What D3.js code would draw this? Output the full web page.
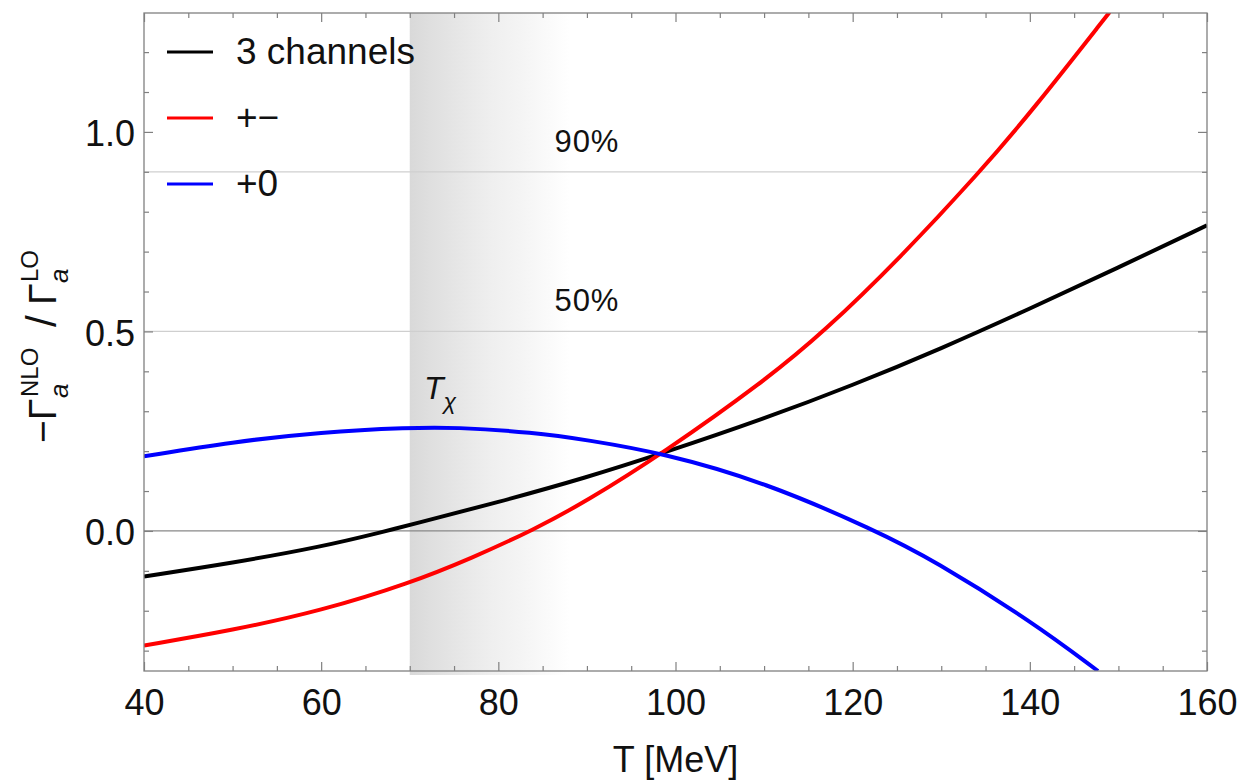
<!DOCTYPE html>
<html>
<head>
<meta charset="utf-8">
<script src="https://cdn.jsdelivr.net/npm/d3@7"></script>
<style>
  body { margin: 0; background: #fff; }
  text { font-family: "Liberation Sans", Arial, sans-serif; fill: #111; }
</style>
</head>
<body>
<div id="chart"></div>
<script>
// datos
const tBlack = [40, 50, 60, 67.4, 70, 80, 90, 98.6, 110, 120, 130, 140, 150, 160];
const vBlack = [-0.114, -0.080, -0.040, 0, 0.015, 0.072, 0.134, 0.195, 0.281, 0.365, 0.457, 0.557, 0.66, 0.766];

const tRed = [40, 50, 60, 70, 77, 84, 90, 98.6, 110, 116.8, 125.3, 134.3, 140.3, 149];
const vRed = [-0.287, -0.249, -0.200, -0.131, -0.068, 0.003, 0.075, 0.195, 0.375, 0.5, 0.683, 0.898, 1.054, 1.30];

const tBlue = [40, 50, 60, 70, 75, 84, 90, 98.6, 110, 122.7, 129.1, 140.3, 147.7];
const vBlue = [0.187, 0.223, 0.248, 0.259, 0.260, 0.247, 0.228, 0.195, 0.123, 0, -0.073, -0.228, -0.351];

const series = [
  { name: "3 channels", t: tBlack, v: vBlack, color: "#000000" },
  { name: "+\u2212", t: tRed, v: vRed, color: "#ff0000" },
  { name: "+0", t: tBlue, v: vBlue, color: "#0000ff" }
];

const xMajor = [40, 60, 80, 100, 120, 140, 160];
const yMajor = [0, 0.5, 1.0];
const gridLines = [0.5, 0.9];
const gridLabels = ["50%", "90%"];
const shadeRange = [70, 88];

const W = 1242, H = 783;
const margin = { top: 13, right: 35, bottom: 112, left: 144 };
const width = W - margin.left - margin.right,
  height = H - margin.top - margin.bottom;

const svg = d3.select("#chart").append("svg")
  .attr("width", W).attr("height", H);
const g = svg.append("g")
  .attr("transform", "translate(" + margin.left + "," + margin.top + ")");

const x = d3.scaleLinear().domain([40, 160]).range([0, width]);
const y = d3.scaleLinear().domain([-0.351, 1.298]).range([height, 0]);

const defs = svg.append("defs");
defs.append("clipPath").attr("id", "clip")
  .append("rect").attr("width", width).attr("height", height);

const grad = defs.append("linearGradient").attr("id", "shade")
  .attr("gradientUnits", "userSpaceOnUse")
  .attr("x1", x(shadeRange[0])).attr("x2", x(shadeRange[1]))
  .attr("y1", 0).attr("y2", 0);
[[0, "#d9d9d9"], [0.15, "#e0e0e0"], [0.37, "#e9e9e9"], [0.52, "#efefef"], [0.72, "#f5f5f5"], [1, "#ffffff"]]
  .forEach(s => grad.append("stop").attr("offset", s[0]).attr("stop-color", s[1]));

// zona sombreada T_chi
g.append("rect")
  .attr("x", x(shadeRange[0]))
  .attr("y", 0)
  .attr("width", x(shadeRange[1]) - x(shadeRange[0]))
  .attr("height", height + 4)
  .attr("fill", "url(#shade)");

// lineas 50% / 90%
g.selectAll(".grid").data(gridLines).enter().append("line")
  .attr("x1", 0).attr("x2", width)
  .attr("y1", d => y(d)).attr("y2", d => y(d))
  .attr("stroke", "#cfcfcf").attr("stroke-width", 1.2);

g.selectAll(".gridlab").data(gridLines).enter().append("text")
  .attr("x", x(90)).attr("y", d => y(d) - 20)
  .attr("text-anchor", "middle")
  .style("font-size", "31px")
  .style("letter-spacing", "1px")
  .text((d, i) => gridLabels[i]);

// linea del cero
g.append("line")
  .attr("x1", 0).attr("x2", width)
  .attr("y1", y(0)).attr("y2", y(0))
  .attr("stroke", "#888").attr("stroke-width", 1.3);

// curvas
const line = d3.line()
  .x(d => x(d[0])).y(d => y(d[1]))
  .curve(d3.curveBasis);

g.append("g").attr("clip-path", "url(#clip)")
  .selectAll("path").data(series).enter().append("path")
  .attr("d", s => line(s.t.map((t, i) => [t, s.v[i]])))
  .attr("fill", "none")
  .attr("stroke", s => s.color)
  .attr("stroke-width", 4);

// ejes con ticks hacia dentro
const xMinor = d3.range(40, 161, 5).filter(v => xMajor.indexOf(v) < 0);
const yMinor = d3.range(-3, 13).map(v => v / 10).filter(v => yMajor.indexOf(v) < 0);

function styleAxis(sel) {
  sel.select(".domain").remove();
  sel.selectAll("line").attr("stroke", "#808080").attr("stroke-width", 1.2);
  sel.selectAll("text").style("font-size", "36px").attr("fill", "#111");
}

g.append("g").attr("transform", "translate(0," + height + ")")
  .call(d3.axisBottom(x).tickValues(xMajor).tickSize(-9).tickFormat(d3.format("d")))
  .call(styleAxis)
  .call(a => a.selectAll("text").attr("y", 44).attr("dy", null));
g.append("g").attr("transform", "translate(0," + height + ")")
  .call(d3.axisBottom(x).tickValues(xMinor).tickSize(-5).tickFormat(""))
  .call(styleAxis);
g.append("g")
  .call(d3.axisTop(x).tickValues(xMajor).tickSize(-9).tickFormat(""))
  .call(styleAxis);
g.append("g")
  .call(d3.axisTop(x).tickValues(xMinor).tickSize(-5).tickFormat(""))
  .call(styleAxis);

g.append("g")
  .call(d3.axisLeft(y).tickValues(yMajor).tickSize(-9).tickPadding(9).tickFormat(d3.format(".1f")))
  .call(styleAxis)
  .call(a => a.selectAll("text").attr("dy", "0.38em"));
g.append("g")
  .call(d3.axisLeft(y).tickValues(yMinor).tickSize(-5).tickFormat(""))
  .call(styleAxis);
g.append("g").attr("transform", "translate(" + width + ",0)")
  .call(d3.axisRight(y).tickValues(yMajor).tickSize(-9).tickFormat(""))
  .call(styleAxis);
g.append("g").attr("transform", "translate(" + width + ",0)")
  .call(d3.axisRight(y).tickValues(yMinor).tickSize(-5).tickFormat(""))
  .call(styleAxis);

// marco
g.append("rect")
  .attr("width", width).attr("height", height)
  .attr("fill", "none").attr("stroke", "#808080").attr("stroke-width", 1.3);

// leyenda
const legend = g.append("g").attr("transform", "translate(23,39)");
series.forEach((s, i) => {
  legend.append("line")
    .attr("x1", 0).attr("x2", 46)
    .attr("y1", i * 66).attr("y2", i * 66)
    .attr("stroke", s.color).attr("stroke-width", 3);
  legend.append("text")
    .attr("x", 69).attr("y", i * 66 + 12)
    .style("font-size", "37px")
    .text(s.name);
});

// etiqueta T_chi
const tchi = g.append("text")
  .attr("x", x(71.6)).attr("y", y(0.33))
  .style("font-size", "32px");
tchi.append("tspan").style("font-style", "italic").text("T");
tchi.append("tspan").style("font-style", "italic").style("font-size", "23px")
  .attr("dy", 10).text("\u03c7");

// titulos de los ejes
svg.append("text")
  .attr("x", margin.left + width / 2)
  .attr("y", 772)
  .attr("text-anchor", "middle")
  .style("font-size", "36px")
  .text("T [MeV]");

const ylab = svg.append("text")
  .attr("transform", "translate(56,443) rotate(-90)")
  .style("font-size", "39px");
ylab.append("tspan").attr("x", 0).text("\u2212\u0393");
ylab.append("tspan").attr("x", 45).attr("dy", 12)
  .style("font-size", "26px").style("font-style", "italic").text("a");
ylab.append("tspan").attr("x", 46).attr("dy", -30)
  .style("font-size", "24px").text("NLO");
ylab.append("tspan").attr("x", 116).attr("dy", 18)
  .style("font-size", "42px").text("/");
ylab.append("tspan").attr("x", 138).text("\u0393");
ylab.append("tspan").attr("x", 160).attr("dy", 12)
  .style("font-size", "26px").style("font-style", "italic").text("a");
ylab.append("tspan").attr("x", 161).attr("dy", -30)
  .style("font-size", "24px").text("LO");
</script>
</body>
</html>
